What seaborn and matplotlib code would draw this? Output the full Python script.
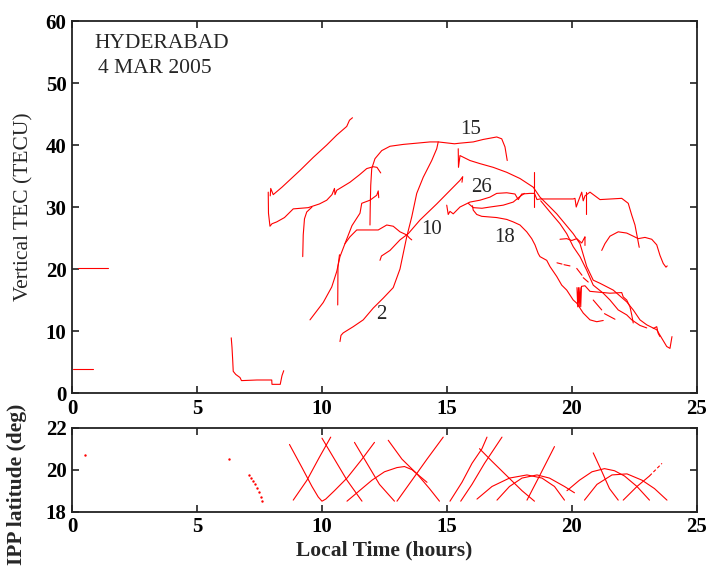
import matplotlib
matplotlib.use("Agg")
import matplotlib.pyplot as plt
import pandas as pd
import seaborn as sns

sns.set_style("ticks")
plt.rcParams["font.family"] = ["Liberation Serif", "DejaVu Serif"]

RED = "#ff0000"

# ---------------- Vertical TEC tracks (local time [h], TEC [TECU]) ----------------
pre1_t = [0.25, 1.43]
pre1_v = [20.2, 20.2]
pre2_t = [0.05, 0.85]
pre2_v = [3.9, 3.9]
dawn_t = [6.37, 6.40, 6.43, 6.45, 6.55, 6.72, 6.78, 7.40, 7.99, 8.00, 8.33, 8.40, 8.47]
dawn_v = [8.9, 7.4, 5.2, 3.5, 3.0, 2.5, 2.0, 2.1, 2.1, 1.4, 1.4, 2.8, 3.6]
sat_d_t = [7.93, 7.95, 8.05, 8.40, 8.72, 9.12, 9.65, 10.19, 10.59, 10.99, 11.10, 11.22]
sat_d_v = [31.8, 33.0, 32.0, 33.2, 34.4, 35.9, 38.0, 40.0, 41.6, 43.0, 44.0, 44.4]
sat_e_t = [7.85, 7.86, 7.92, 8.00, 8.19, 8.50, 8.85, 9.45, 9.90, 10.19, 10.40, 10.50,
           10.52, 10.59, 11.12, 11.50, 11.79, 12.05, 12.20, 12.35]
sat_e_v = [32.4, 29.0, 26.9, 27.3, 27.6, 28.3, 29.7, 29.9, 30.5, 31.1, 32.0, 33.0,
           32.0, 32.7, 34.0, 35.2, 36.2, 36.5, 36.4, 35.5]
sat_f_t = [9.23, 9.25, 9.30, 9.39, 9.60]
sat_f_v = [22.0, 25.5, 28.1, 29.2, 30.0]
sat_i_t = [9.52, 10.05, 10.39, 10.59, 10.72, 10.92, 11.12, 11.39, 11.52, 12.25, 12.59,
           12.85, 13.12, 13.39, 13.50, 13.59]
sat_i_v = [11.8, 14.6, 17.1, 19.6, 22.0, 24.1, 25.2, 26.3, 26.3, 26.3, 27.1,
           26.9, 26.0, 25.5, 25.0, 24.7]
sat_j_t = [10.92, 11.20, 11.52, 11.59, 11.92, 12.19, 12.25, 12.27]
sat_j_v = [24.1, 27.0, 29.0, 30.6, 31.1, 31.9, 32.6, 31.5]
sat_v1_t = [10.63, 10.64, 10.70]
sat_v1_v = [14.2, 20.4, 22.3]
sat_2_t = [10.72, 10.76, 10.85, 11.25, 11.65, 12.05, 12.45, 12.85, 13.12, 13.39, 13.59,
           13.79, 14.05, 14.39, 14.59, 14.65]
sat_2_v = [8.3, 9.3, 9.7, 10.7, 11.8, 13.7, 15.3, 17.0, 20.0, 25.2, 28.4,
           32.2, 34.8, 37.5, 39.4, 40.5]
sat_l_t = [12.32, 12.38, 12.72, 13.12, 13.45, 13.92, 14.59, 15.25, 15.52, 15.63, 15.60]
sat_l_v = [21.4, 22.1, 23.0, 24.7, 25.7, 27.9, 30.5, 33.2, 34.3, 34.9, 34.0]
sat_15_t = [11.92, 11.93, 11.95, 11.99, 12.12, 12.39, 12.72, 13.25, 13.79, 14.32, 14.65,
            15.30, 15.52, 16.05, 16.45, 16.99, 17.19, 17.32, 17.41]
sat_15_v = [27.1, 30.0, 33.5, 36.2, 37.8, 39.1, 39.8, 40.1, 40.3, 40.5, 40.5,
            40.2, 40.3, 40.5, 40.9, 41.3, 41.0, 39.7, 37.5]
sat_m_t = [15.45, 15.46, 15.52, 15.92, 16.32, 16.85, 17.39, 17.92, 18.45, 18.72, 19.12,
           19.39, 19.72, 20.05, 20.32, 20.59, 20.85, 21.12, 21.65, 22.19, 22.45, 22.72,
           22.99, 23.39, 23.79, 23.92, 24.00]
sat_m_v = [39.4, 36.4, 38.3, 37.5, 37.0, 36.4, 35.6, 34.6, 33.2, 31.6, 30.0,
           28.9, 27.3, 25.7, 24.1, 20.4, 18.2, 17.7, 16.6, 14.7, 13.4, 11.8,
           11.0, 10.2, 7.5, 7.2, 9.1]
spike_a_t = [18.48, 18.48]
spike_a_v = [35.6, 30.0]
spike_b_t = [20.55, 20.55]
spike_b_v = [32.4, 28.9]
sat_26_t = [14.99, 15.05, 15.12, 15.25, 15.52, 15.92, 16.32, 16.72, 16.99, 17.39, 17.72,
            17.85, 17.99, 18.32, 18.50, 18.60, 18.72, 20.05, 20.12, 20.17, 20.25, 20.39,
            20.45, 20.52, 20.72, 21.12, 21.99, 22.25, 22.39, 22.52, 22.61, 22.69]
sat_26_v = [30.3, 28.8, 29.3, 28.9, 30.0, 30.8, 31.1, 31.6, 32.2, 32.3, 32.1,
            31.2, 32.1, 32.2, 32.2, 31.2, 31.3, 31.3, 31.4, 30.0, 30.9, 32.4,
            31.0, 31.8, 32.4, 31.2, 31.4, 30.6, 28.7, 27.1, 25.2, 23.5]
sat_26b_t = [15.85, 16.05, 16.40, 16.72, 17.25, 17.65, 17.92, 18.10]
sat_26b_v = [30.6, 29.9, 29.8, 30.0, 30.3, 30.8, 31.7, 32.2]
sat_18_t = [16.02, 16.05, 16.19, 16.39, 16.99, 17.39, 17.65, 17.92, 18.19, 18.39, 18.52,
            18.65, 18.72, 18.99, 19.12, 19.39, 19.59, 19.79, 20.05, 20.19, 20.45, 20.72,
            20.99, 21.25]
sat_18_v = [30.2, 29.5, 28.8, 28.5, 28.3, 28.0, 27.6, 27.1, 26.0, 24.9, 23.9,
            22.5, 22.0, 21.4, 20.4, 18.8, 17.4, 16.6, 15.0, 14.5, 12.9, 11.8,
            11.5, 11.7]
sat_p5_t = [18.75, 19.10, 19.52, 19.79, 20.05, 20.32, 20.59, 20.85, 21.25, 21.52, 21.85,
            22.19, 22.39, 22.72, 22.99]
sat_p5_v = [31.0, 29.3, 27.3, 25.7, 23.6, 22.0, 19.8, 17.4, 16.1, 15.0, 13.4,
            12.6, 11.8, 10.9, 10.5]
sat_p6_t = [20.20, 20.23, 20.26, 20.29, 20.32, 20.35, 20.38, 20.52, 20.72, 21.52, 21.99,
            22.05, 22.19, 22.32, 22.39, 22.45]
sat_p6_v = [17.0, 13.9, 17.0, 13.9, 17.0, 13.9, 17.2, 17.3, 16.4, 16.1, 16.2,
            15.5, 15.0, 13.9, 12.6, 11.3]
sat_arc_t = [21.19, 21.32, 21.52, 21.85, 22.19, 22.45, 22.65, 22.92, 23.19, 23.39, 23.52,
             23.65, 23.76, 23.81]
sat_arc_v = [23.0, 24.1, 25.3, 26.0, 25.8, 25.3, 24.9, 25.1, 24.8, 23.9, 22.2,
             20.9, 20.3, 20.5]
frag_j_t = [19.52, 19.79, 19.99, 20.19, 20.39, 20.48, 20.52, 20.52]
frag_j_v = [24.8, 24.9, 24.6, 24.9, 24.2, 24.9, 25.2, 23.8]
frag_1_t = [19.40, 19.60]
frag_1_v = [21.0, 20.8]
frag_2_t = [19.68, 19.92]
frag_2_v = [20.7, 20.5]
frag_3_t = [20.19, 20.40]
frag_3_v = [20.1, 19.0]
frag_4_t = [20.45, 20.65]
frag_4_v = [18.6, 17.9]
frag_5_t = [20.85, 21.19]
frag_5_v = [15.0, 13.4]
frag_6_t = [21.30, 21.72]
frag_6_v = [12.8, 11.9]
frag_7_t = [23.25, 23.39, 23.45, 23.52]
frag_7_v = [10.4, 10.7, 9.6, 9.1]

tec_tracks = {
    "pre1": (pre1_t, pre1_v), "pre2": (pre2_t, pre2_v), "dawn": (dawn_t, dawn_v),
    "d": (sat_d_t, sat_d_v), "e": (sat_e_t, sat_e_v), "f": (sat_f_t, sat_f_v),
    "i": (sat_i_t, sat_i_v), "j": (sat_j_t, sat_j_v), "v1": (sat_v1_t, sat_v1_v),
    "2": (sat_2_t, sat_2_v), "l": (sat_l_t, sat_l_v), "15": (sat_15_t, sat_15_v),
    "m": (sat_m_t, sat_m_v), "sa": (spike_a_t, spike_a_v), "sb": (spike_b_t, spike_b_v),
    "26": (sat_26_t, sat_26_v), "26b": (sat_26b_t, sat_26b_v), "18": (sat_18_t, sat_18_v),
    "p5": (sat_p5_t, sat_p5_v), "p6": (sat_p6_t, sat_p6_v), "arc": (sat_arc_t, sat_arc_v),
    "fj": (frag_j_t, frag_j_v), "f1": (frag_1_t, frag_1_v), "f2": (frag_2_t, frag_2_v),
    "f3": (frag_3_t, frag_3_v), "f4": (frag_4_t, frag_4_v), "f5": (frag_5_t, frag_5_v),
    "f6": (frag_6_t, frag_6_v), "f7": (frag_7_t, frag_7_v),
}

# PRN labels placed next to their tracks
prn_labels = ["15", "26", "10", "18", "2"]
prn_t = [15.95, 16.39, 14.39, 17.32, 12.39]
prn_v = [42.5, 33.1, 26.4, 25.1, 12.6]

# ---------------- IPP latitude tracks (local time [h], latitude [deg]) ----------------
ipp_dot_t = [0.52, 6.28]
ipp_dot_v = [20.7, 20.5]
ipp_dash_t = [7.09, 7.17, 7.25, 7.33, 7.41, 7.49, 7.57, 7.61]
ipp_dash_v = [19.74, 19.60, 19.46, 19.30, 19.12, 18.92, 18.68, 18.52]
ipp_1_t = [8.70, 9.20, 9.60, 9.85, 10.00, 10.15, 10.50, 11.00, 11.60, 12.10]
ipp_1_v = [21.2, 20.1, 19.2, 18.7, 18.5, 18.6, 19.0, 19.6, 20.5, 21.3]
ipp_2_t = [8.85, 9.40, 9.90, 10.35]
ipp_2_v = [18.55, 19.50, 20.60, 21.55]
ipp_3_t = [10.00, 10.50, 11.00, 11.60]
ipp_3_v = [21.5, 20.5, 19.5, 18.5]
ipp_4_t = [11.30, 11.80, 12.30, 12.90]
ipp_4_v = [21.3, 20.3, 19.3, 18.5]
ipp_5_t = [11.00, 11.50, 12.00, 12.50, 13.00, 13.30, 13.60, 13.90, 14.20]
ipp_5_v = [18.5, 19.0, 19.5, 19.9, 20.1, 20.15, 20.0, 19.7, 19.4]
ipp_6_t = [12.65, 13.20, 13.80, 14.30, 14.70]
ipp_6_v = [21.4, 20.5, 19.8, 19.1, 18.5]
ipp_7_t = [13.00, 13.60, 14.20, 14.85]
ipp_7_v = [18.5, 19.5, 20.5, 21.55]
ipp_8_t = [15.12, 15.60, 16.00, 16.40, 16.60]
ipp_8_v = [18.5, 19.4, 20.3, 21.0, 21.55]
ipp_9_t = [15.55, 16.00, 16.50, 17.20]
ipp_9_v = [18.5, 19.3, 20.3, 21.55]
ipp_10_t = [16.30, 16.80, 17.40, 18.00, 18.50]
ipp_10_v = [21.0, 20.4, 19.7, 19.0, 18.5]
ipp_11_t = [16.20, 16.80, 17.50, 18.20, 18.80, 19.30, 19.70]
ipp_11_v = [18.6, 19.2, 19.6, 19.75, 19.6, 19.2, 18.55]
ipp_12_t = [17.00, 17.50, 18.00, 18.60, 19.10, 19.70, 20.10]
ipp_12_v = [18.55, 19.2, 19.6, 19.75, 19.6, 19.2, 18.9]
ipp_13_t = [18.20, 18.70, 19.00, 19.30]
ipp_13_v = [18.55, 19.7, 20.4, 21.1]
ipp_14_t = [19.80, 20.30, 20.80, 21.30, 21.70, 22.10, 22.60, 23.10]
ipp_14_v = [19.0, 19.5, 19.9, 20.05, 19.95, 19.7, 19.2, 18.55]
ipp_15_t = [20.50, 21.00, 21.60, 22.20, 22.80, 23.30, 23.80]
ipp_15_v = [18.55, 19.3, 19.75, 19.8, 19.5, 19.1, 18.55]
ipp_16_t = [20.85, 21.20, 21.50, 21.85]
ipp_16_v = [20.8, 19.9, 19.1, 18.55]
ipp_17_t = [22.05, 22.60, 23.10]
ipp_17_v = [18.55, 19.2, 19.7]
ipp_17b_t = [23.10, 23.60]
ipp_17b_v = [19.7, 20.3]

ipp_tracks = {
    "1": (ipp_1_t, ipp_1_v), "2": (ipp_2_t, ipp_2_v), "3": (ipp_3_t, ipp_3_v),
    "4": (ipp_4_t, ipp_4_v), "5": (ipp_5_t, ipp_5_v), "6": (ipp_6_t, ipp_6_v),
    "7": (ipp_7_t, ipp_7_v), "8": (ipp_8_t, ipp_8_v), "9": (ipp_9_t, ipp_9_v),
    "10": (ipp_10_t, ipp_10_v), "11": (ipp_11_t, ipp_11_v), "12": (ipp_12_t, ipp_12_v),
    "13": (ipp_13_t, ipp_13_v), "14": (ipp_14_t, ipp_14_v), "15": (ipp_15_t, ipp_15_v),
    "16": (ipp_16_t, ipp_16_v), "17": (ipp_17_t, ipp_17_v),
}


def to_frame(tracks):
    rows = []
    for name, (ts, vs) in tracks.items():
        for k, (t, v) in enumerate(zip(ts, vs)):
            rows.append({"track": name, "order": k, "t": t, "v": v})
    return pd.DataFrame(rows)


tec_df = to_frame(tec_tracks)
ipp_df = to_frame(ipp_tracks)

fig = plt.figure(figsize=(7.12, 5.70), dpi=100)
ax1 = fig.add_axes([0.1011, 0.3105, 0.8778, 0.6526])
ax2 = fig.add_axes([0.1011, 0.1023, 0.8778, 0.1474])

sns.lineplot(data=tec_df, x="t", y="v", units="track", estimator=None, sort=False,
             color=RED, lw=0.8, legend=False, ax=ax1)
sns.lineplot(data=ipp_df, x="t", y="v", units="track", estimator=None, sort=False,
             color=RED, lw=0.8, legend=False, ax=ax2)
ax2.plot(ipp_17b_t, ipp_17b_v, color=RED, lw=0.8, ls=(0, (3, 2)))
sns.scatterplot(x=ipp_dash_t, y=ipp_dash_v, color=RED, s=3, linewidth=0, ax=ax2)
sns.scatterplot(x=ipp_dot_t, y=ipp_dot_v, color=RED, s=3, linewidth=0, ax=ax2)

for lbl, t, v in zip(prn_labels, prn_t, prn_v):
    ax1.text(t, v, lbl, fontsize=15, ha="center", va="center")

ax1.text(0.9, 55.7, "HYDERABAD", fontsize=15.5, ha="left", va="baseline")
ax1.text(1.05, 51.6, "4 MAR 2005", fontsize=15.5, ha="left", va="baseline")

ax1.set_xlim(0, 25)
ax1.set_ylim(0, 60)
ax1.set_xticks([0, 5, 10, 15, 20, 25])
ax1.set_yticks([0, 10, 20, 30, 40, 50, 60])
ax2.set_xlim(0, 25)
ax2.set_ylim(18, 22)
ax2.set_xticks([0, 5, 10, 15, 20, 25])
ax2.set_yticks([18, 20, 22])

for ax in (ax1, ax2):
    ax.tick_params(direction="in", top=True, right=True, length=5, width=1.2,
                   labelsize=15, pad=4, colors="#222222", labelcolor="black")
    for sp in ax.spines.values():
        sp.set_linewidth(1.3)
        sp.set_color("#222222")
    for lab in ax.get_xticklabels() + ax.get_yticklabels():
        lab.set_fontweight("bold")

ax1.set_xlabel("")
ax1.set_ylabel("Vertical TEC (TECU)", fontsize=15.5)
ax1.yaxis.set_label_coords(-0.062, 0.5)
ax2.set_ylabel("IPP latitude (deg)", fontsize=15.5, fontweight="bold")
ax2.yaxis.set_label_coords(-0.072, 0.33)
ax2.set_xlabel("Local Time (hours)", fontsize=15.5, fontweight="bold", labelpad=2)

fig.savefig("out.png", dpi=100)
